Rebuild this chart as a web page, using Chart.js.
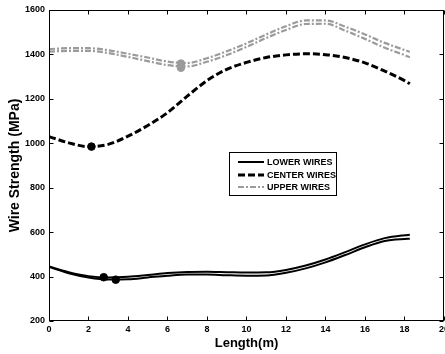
<!DOCTYPE html>
<html>
<head>
<meta charset="utf-8">
<script src="https://cdn.jsdelivr.net/npm/chart.js@4/dist/chart.umd.min.js"></script>
<style>
html,body{margin:0;padding:0;background:#fff;overflow:hidden;}
#wrap{position:absolute;left:0;top:0;width:452px;height:354px;}
</style>
</head>
<body>
<div id="wrap"><canvas id="c" width="452" height="354"></canvas></div>
<script>
// ---- data ----
const lengthX   = [0,1,2,3,4,5,6,7,8,9,10,11,12,13,14,15,16,17,18,18.27];
const lowerA    = [445,420,402,396,399,407,416,421,422,420,418,419,430,450,477,510,545,573,586,588];
const lowerB    = [443,415,396,387,388,396,404,409,409,406,404,405,417,437,464,497,532,560,569,570];
const centerW   = [1030,1002,985,995,1032,1080,1138,1212,1282,1333,1364,1386,1398,1403,1399,1386,1362,1325,1282,1268];
const upperA    = [1424,1428,1428,1419,1403,1386,1368,1361,1383,1414,1450,1490,1527,1553,1553,1525,1490,1452,1420,1412];
const upperB    = [1413,1416,1416,1406,1389,1370,1352,1346,1367,1397,1434,1474,1510,1537,1538,1507,1470,1430,1397,1387];
const markBlackX = [2.15, 2.77, 3.38];
const markBlackY = [985, 397, 386];
const markGrayX  = [6.68, 6.68];
const markGrayY  = [1359, 1340];
const legendLabels = ['LOWER WIRES','CENTER WIRES','UPPER WIRES'];
const xTicks = [0,2,4,6,8,10,12,14,16,18,20];
const yTicks = [200,400,600,800,1000,1200,1400,1600];

const pts = (xs, ys) => xs.map((x,i)=>({x, y: ys[i]}));
const GRAY = '#9b9b9b';

const styles = {
  lower:  {borderColor:'#000', borderWidth:2, borderDash:[]},
  center: {borderColor:'#000', borderWidth:3, borderDash:[7,3]},
  upper:  {borderColor:GRAY,  borderWidth:2.2, borderDash:[6,2,2,2]}
};

function lineDS(label, ys, st){
  return Object.assign({label, data: pts(lengthX, ys), showLine:true, pointRadius:0,
    cubicInterpolationMode:'monotone', fill:false}, st);
}

const datasets = [
  {label:'markers black', data: pts(markBlackX, markBlackY), pointRadius:3.8, pointBackgroundColor:'#000', pointBorderColor:'#000', showLine:false, order:-1},
  {label:'markers gray', data: pts(markGrayX, markGrayY), pointRadius:3.8, pointBackgroundColor:GRAY, pointBorderColor:GRAY, showLine:false, order:-1},
  lineDS(legendLabels[0], lowerA, styles.lower),
  lineDS(legendLabels[0], lowerB, styles.lower),
  lineDS(legendLabels[1], centerW, styles.center),
  lineDS(legendLabels[2], upperA, styles.upper),
  lineDS(legendLabels[2], upperB, styles.upper)
];

const framePlugin = {
  id:'frame',
  afterDraw(chart){
    const {ctx, chartArea:a, scales:{x,y}} = chart;
    ctx.save();
    ctx.strokeStyle = '#000';
    ctx.lineWidth = 1;
    const L = Math.round(a.left)+0.5, R = Math.round(a.right)-0.5, T = Math.round(a.top)+0.5, B = Math.round(a.bottom)-0.5;
    ctx.strokeRect(L, T, R-L, B-T);
    ctx.beginPath();
    xTicks.forEach(v=>{
      const px = Math.round(x.getPixelForValue(v))+0.5;
      ctx.moveTo(px,B); ctx.lineTo(px,B-4);
      ctx.moveTo(px,T); ctx.lineTo(px,T+4);
    });
    yTicks.forEach(v=>{
      const py = Math.round(y.getPixelForValue(v))+0.5;
      ctx.moveTo(L,py); ctx.lineTo(L+4,py);
      ctx.moveTo(R,py); ctx.lineTo(R-4,py);
    });
    ctx.stroke();

    // legend
    const bx = 229.5, by = 152.5, bw = 107, bh = 43;
    ctx.fillStyle = '#fff';
    ctx.fillRect(bx, by, bw, bh);
    ctx.strokeRect(bx, by, bw, bh);
    const entries = [styles.lower, styles.center, styles.upper];
    const rows = [162, 175, 187];
    ctx.font = 'bold 9px "Liberation Sans", Arial, sans-serif';
    ctx.textBaseline = 'middle';
    ctx.textAlign = 'left';
    entries.forEach((st,i)=>{
      ctx.save();
      ctx.strokeStyle = st.borderColor;
      ctx.lineWidth = st.borderWidth;
      ctx.setLineDash(st.borderDash);
      ctx.beginPath();
      ctx.moveTo(238, rows[i]); ctx.lineTo(264, rows[i]);
      ctx.stroke();
      ctx.restore();
      ctx.fillStyle = '#000';
      ctx.fillText(legendLabels[i], 267, rows[i]+0.5);
    });
    ctx.restore();
  }
};

const tickFont = {family:'"Liberation Sans", Arial, sans-serif', size:9, weight:'bold'};

new Chart(document.getElementById('c'), {
  type:'scatter',
  data:{datasets},
  options:{
    responsive:false,
    animation:false,
    devicePixelRatio:1,
    layout:{padding:{top:10, right:6, left:0, bottom:0}},
    plugins:{legend:{display:false}, tooltip:{enabled:false}},
    scales:{
      x:{
        type:'linear', min:0, max:20,
        afterBuildTicks:(s)=>{ s.ticks = xTicks.map(v=>({value:v})); },
        afterFit:(s)=>{ s.height = 33; },
        grid:{display:false, drawTicks:false},
        border:{display:false},
        ticks:{color:'#000', font:tickFont, padding:3, maxRotation:0, autoSkip:false, callback:(v)=>String(v)},
        title:{display:true, text:'Length(m)', color:'#000',
          font:{family:'"Liberation Sans", Arial, sans-serif', size:13, weight:'bold'}, padding:{top:0,bottom:3}}
      },
      y:{
        type:'linear', min:200, max:1600,
        afterBuildTicks:(s)=>{ s.ticks = yTicks.map(v=>({value:v})); },
        afterFit:(s)=>{ s.width = 49; },
        grid:{display:false, drawTicks:false},
        border:{display:false},
        ticks:{color:'#000', font:tickFont, padding:4, autoSkip:false, callback:(v)=>String(v)},
        title:{display:true, text:'Wire Strength (MPa)', color:'#000',
          font:{family:'"Liberation Sans", Arial, sans-serif', size:14, weight:'bold'}, padding:{top:6.6,bottom:0}}
      }
    }
  },
  plugins:[framePlugin]
});
</script>
</body>
</html>
